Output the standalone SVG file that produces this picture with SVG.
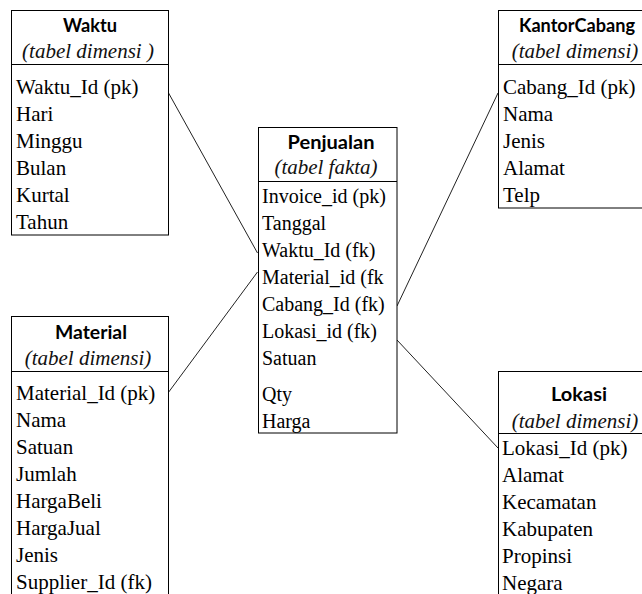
<svg xmlns="http://www.w3.org/2000/svg" width="642" height="594" viewBox="0 0 642 594">
<style>
.box{fill:#fff;stroke:#000;stroke-width:1}
.div{stroke:#000;stroke-width:1}
.title{font-family:Lato,"Liberation Sans",sans-serif;font-weight:bold;font-size:19px;fill:#000;text-anchor:middle}
.sub{font-family:"Liberation Serif",serif;font-style:italic;font-size:21px;fill:#111;text-anchor:middle}
.row{font-family:"Liberation Serif",serif;font-size:21px;fill:#000}
.rowc{font-family:"Liberation Serif",serif;font-size:20px;fill:#000}
.conn{stroke:#222;stroke-width:1;fill:none}
</style>
<rect width="642" height="594" fill="#fff"/>
<g id="connectors">
<line class="conn" x1="168" y1="92" x2="257.5" y2="253"/>
<line class="conn" x1="168" y1="393" x2="257.5" y2="272"/>
<line class="conn" x1="397" y1="306" x2="498" y2="93"/>
<line class="conn" x1="397" y1="340" x2="498" y2="448"/>
</g>
<g id="waktu">
<rect class="box" x="11.5" y="10.5" width="157" height="224.5"/>
<line class="div" x1="11.5" y1="64.5" x2="168.5" y2="64.5"/>
<text class="title" x="90" y="32" textLength="54" lengthAdjust="spacingAndGlyphs">Waktu</text>
<text class="sub" x="88" y="58">(tabel dimensi )</text>
<text class="row" x="16" y="94">Waktu_Id (pk)</text>
<text class="row" x="16" y="121">Hari</text>
<text class="row" x="16" y="148">Minggu</text>
<text class="row" x="16" y="175">Bulan</text>
<text class="row" x="16" y="202">Kurtal</text>
<text class="row" x="16" y="229">Tahun</text>
</g>
<g id="penjualan">
<rect class="box" x="258.5" y="127.5" width="138.5" height="305.5"/>
<line class="div" x1="258.5" y1="181.5" x2="397" y2="181.5"/>
<text class="title" x="331" y="149" textLength="87" lengthAdjust="spacingAndGlyphs">Penjualan</text>
<text class="sub" x="326" y="174">(tabel fakta)</text>
<text class="rowc" x="262" y="203">Invoice_id (pk)</text>
<text class="rowc" x="262" y="230">Tanggal</text>
<text class="rowc" x="262" y="257">Waktu_Id (fk)</text>
<text class="rowc" x="262" y="284">Material_id (fk</text>
<text class="rowc" x="262" y="311">Cabang_Id (fk)</text>
<text class="rowc" x="262" y="338">Lokasi_id (fk)</text>
<text class="rowc" x="262" y="365">Satuan</text>
<text class="rowc" x="262" y="401">Qty</text>
<text class="rowc" x="262" y="428">Harga</text>
</g>
<g id="kantorcabang">
<rect class="box" x="498.5" y="10.5" width="156" height="197.5"/>
<line class="div" x1="498.5" y1="64.5" x2="654" y2="64.5"/>
<text class="title" x="577" y="32" textLength="116" lengthAdjust="spacingAndGlyphs">KantorCabang</text>
<text class="sub" x="575" y="58">(tabel dimensi)</text>
<text class="row" x="503" y="94">Cabang_Id (pk)</text>
<text class="row" x="503" y="121">Nama</text>
<text class="row" x="503" y="148">Jenis</text>
<text class="row" x="503" y="175">Alamat</text>
<text class="row" x="503" y="202">Telp</text>
</g>
<g id="material">
<rect class="box" x="11.5" y="316.5" width="157" height="300"/>
<line class="div" x1="11.5" y1="371.5" x2="168.5" y2="371.5"/>
<text class="title" x="91" y="339" textLength="72" lengthAdjust="spacingAndGlyphs">Material</text>
<text class="sub" x="88" y="365">(tabel dimensi)</text>
<text class="row" x="16" y="400">Material_Id (pk)</text>
<text class="row" x="16" y="427">Nama</text>
<text class="row" x="16" y="454">Satuan</text>
<text class="row" x="16" y="481">Jumlah</text>
<text class="row" x="16" y="508">HargaBeli</text>
<text class="row" x="16" y="535">HargaJual</text>
<text class="row" x="16" y="562">Jenis</text>
<text class="row" x="16" y="589">Supplier_Id (fk)</text>
</g>
<g id="lokasi">
<rect class="box" x="498.5" y="371.5" width="156" height="250"/>
<line class="div" x1="498.5" y1="433.5" x2="654" y2="433.5"/>
<text class="title" x="579" y="401" textLength="56" lengthAdjust="spacingAndGlyphs">Lokasi</text>
<text class="sub" x="575" y="428">(tabel dimensi)</text>
<text class="row" x="502" y="455">Lokasi_Id (pk)</text>
<text class="row" x="502" y="482">Alamat</text>
<text class="row" x="502" y="509">Kecamatan</text>
<text class="row" x="502" y="536">Kabupaten</text>
<text class="row" x="502" y="563">Propinsi</text>
<text class="row" x="502" y="590">Negara</text>
</g>
</svg>
